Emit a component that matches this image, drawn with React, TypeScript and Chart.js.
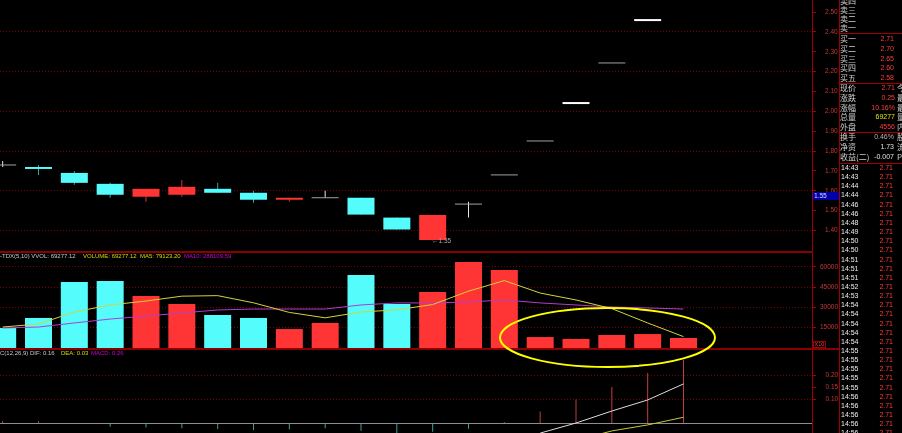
import React, { useEffect, useRef } from 'react';
import { Chart, registerables } from 'chart.js';

Chart.register(...registerables);

// ------------------------------------------------------------------ data
const barIndex = [0, 1, 2, 3, 4, 5, 6, 7, 8, 9, 10, 11, 12, 13, 14, 15, 16, 17, 18, 19];
const openPrice = [1.73, 1.72, 1.69, 1.635, 1.57, 1.58, 1.61, 1.59, 1.555, 1.565, 1.565, 1.465, 1.352, 1.533, 1.68, 1.851, 2.042, 2.244, 2.46, 2.71];
const closePrice = [1.73, 1.71, 1.64, 1.58, 1.61, 1.62, 1.59, 1.555, 1.565, 1.565, 1.48, 1.405, 1.478, 1.533, 1.68, 1.851, 2.042, 2.244, 2.46, 2.71];
const highPrice = [1.75, 1.73, 1.7, 1.64, 1.61, 1.655, 1.64, 1.6, 1.565, 1.6, 1.565, 1.465, 1.478, 1.545, 1.68, 1.851, 2.042, 2.244, 2.46, 2.71];
const lowPrice = [1.72, 1.68, 1.63, 1.565, 1.545, 1.57, 1.59, 1.54, 1.545, 1.565, 1.48, 1.405, 1.35, 1.465, 1.68, 1.851, 2.042, 2.244, 2.46, 2.71];

const volume = [14800, 22200, 48800, 49500, 38400, 32500, 24400, 22200, 14000, 18500, 53900, 32500, 41400, 63500, 57600, 8100, 6700, 9600, 10300, 7400];
const volumeUp = [false, false, false, false, true, true, false, false, true, true, false, false, true, true, true, true, true, true, true, true];
const volumeMa5 = [15500, 17700, 26600, 31800, 34700, 38300, 38700, 33400, 26300, 22300, 26600, 28200, 32100, 42000, 49800, 40600, 35500, 29100, 18500, 8400];
const volumeMa10 = [14800, 15500, 18500, 21400, 23600, 25900, 28100, 28800, 28800, 28800, 31800, 33300, 33300, 34000, 35500, 33300, 31800, 30300, 29600, 28800];

const macdHist = [0.01, 0.009, 0.001, -0.014, -0.017, -0.02, -0.023, -0.027, -0.024, -0.02, -0.03, -0.045, -0.034, -0.022, 0.006, 0.05, 0.1, 0.152, 0.21, 0.265];
const difLine: (number | null)[] = [null, null, null, null, null, null, null, null, null, null, null, null, null, null, null, -0.04, 0.002, 0.052, 0.098, 0.165];
const deaLine: (number | null)[] = [null, null, null, null, null, null, null, null, null, null, null, null, null, null, null, null, -0.07, -0.031, -0.006, 0.026];

const priceTicks = [1.4, 1.5, 1.6, 1.7, 1.8, 1.9, 2.0, 2.1, 2.2, 2.3, 2.4, 2.5];
const priceGridTicks = [1.4, 1.6, 1.8, 2.0, 2.2, 2.4];
const volumeTicks = [15000, 30000, 45000, 60000];
const macdTicks = [0, 0.1, 0.15, 0.2];
const macdGridTicks = [0.1, 0.2];
const lowMarkText = '←1.35';
const crossPriceText = '1.55';

const volHeader = ['-TDX(5,10) VVOL: 69277.12', 'VOLUME: 69277.12', 'MA5: 79123.20', 'MA10: 288109.59'];
const macdHeader = ['C(12,26,9) DIF: 0.16', 'DEA: 0.03', 'MACD: 0.26'];

const sellLabels = ['卖四', '卖三', '卖二', '卖一'];
const buyLabels = ['买一', '买二', '买三', '买四', '买五'];
const buyPrices = ['2.71', '2.70', '2.65', '2.60', '2.58'];
const statLabels = ['现价', '涨跌', '涨幅', '总量', '外盘'];
const statValues = ['2.71', '0.25', '10.16%', '69277', '4556'];
const statCut = ['今', '最', '最', '量', '内'];
const infoLabels = ['换手', '净资', '收益(二)'];
const infoValues = ['0.46%', '1.73', '-0.007'];
const infoCut = ['股', '流', 'P'];
const tradeTimes = ['14:43', '14:43', '14:44', '14:44', '14:46', '14:46', '14:48', '14:49', '14:50', '14:50', '14:51', '14:51', '14:51', '14:52', '14:53', '14:54', '14:54', '14:54', '14:54', '14:54', '14:55', '14:55', '14:55', '14:55', '14:55', '14:56', '14:56', '14:56', '14:56', '14:56'];
const tradePrices = ['2.71', '2.71', '2.71', '2.71', '2.71', '2.71', '2.71', '2.71', '2.71', '2.71', '2.71', '2.71', '2.71', '2.71', '2.71', '2.71', '2.71', '2.71', '2.71', '2.71', '2.71', '2.71', '2.71', '2.71', '2.71', '2.71', '2.71', '2.71', '2.71', '2.71'];

// ------------------------------------------------------------------ style
const X_MIN = -0.0744;
const X_MAX = 22.586;
const PRICE_MIN = 1.2967;
const PRICE_MAX = 2.5612;
const VOL_MIN = 0;
const VOL_MAX = 70936;
const MACD_MIN = -0.0396;
const MACD_MAX = 0.3104;

const FONT = "'Liberation Sans', Arial, sans-serif";
const CJK = "'Noto Sans CJK SC', sans-serif";
const RED = '#ff3535';
const CYAN = '#54fcfc';
const GRID = '#7c0000';
const AXIS = '#a00000';
const LABEL = '#c43838';
const CLEAR = 'rgba(0,0,0,0)';
const BRIGHT_DOJI = new Set([16, 18, 19]);

const near = (a: number, b: number) => Math.abs(a - b) < 1e-6;
const inList = (list: number[], v: number) => list.some((x) => near(x, v));

function xAxis() {
  return { type: 'linear', min: X_MIN, max: X_MAX, display: false, offset: false };
}

function yAxis(o: {
  min: number;
  max: number;
  ticks: number[];
  pad: number;
  label: (v: number) => string | null;
  grid: (v: number) => string | null;
}) {
  return {
    type: 'linear',
    position: 'right',
    min: o.min,
    max: o.max,
    beginAtZero: false,
    afterBuildTicks: (scale: any) => {
      scale.ticks = o.ticks.map((v) => ({ value: v }));
    },
    ticks: {
      autoSkip: false,
      color: LABEL,
      font: { family: FONT, size: 6.5 },
      padding: o.pad,
      crossAlign: 'near',
      callback: (v: any) => o.label(Number(v)) ?? '',
    },
    grid: {
      drawOnChartArea: true,
      drawTicks: true,
      tickLength: 4,
      lineWidth: 1,
      tickWidth: 1,
      color: (ctx: any) => (ctx.tick ? o.grid(ctx.tick.value) ?? CLEAR : CLEAR),
      tickColor: (ctx: any) => (ctx.tick && o.label(ctx.tick.value) !== null ? AXIS : CLEAR),
      tickBorderDash: [],
    },
    border: {
      display: true,
      color: AXIS,
      width: 1,
      dash: (ctx: any) => (ctx.tick && Math.abs(ctx.tick.value) < 1e-9 ? [] : [1, 2]),
    },
    afterFit: (scale: any) => {
      scale.width = 27;
      scale.paddingTop = 0;
      scale.paddingBottom = 0;
    },
  };
}

function baseOptions(y: any) {
  return {
    responsive: false,
    maintainAspectRatio: false,
    animation: false,
    events: [],
    layout: { padding: 0, autoPadding: false },
    plugins: { legend: { display: false }, tooltip: { enabled: false } },
    scales: { x: xAxis(), y },
  };
}

function priceConfig() {
  const bodyIdx = barIndex.filter((i) => openPrice[i] !== closePrice[i]);
  const dojiIdx = barIndex.filter((i) => openPrice[i] === closePrice[i]);
  const bodyColor = (i: number) => (closePrice[i] > openPrice[i] ? RED : CYAN);
  const wickColor = (i: number) =>
    closePrice[i] > openPrice[i] ? '#d83030' : closePrice[i] < openPrice[i] ? '#2aa8a8' : '#e6e6e6';
  const dojiColor = (i: number) => (BRIGHT_DOJI.has(i) ? '#ffffff' : '#a0a0a0');
  return {
    type: 'bar',
    data: {
      datasets: [
        {
          type: 'bar',
          label: 'body',
          data: bodyIdx.map((i) => ({ x: i, y: [openPrice[i], closePrice[i]] })),
          backgroundColor: bodyIdx.map(bodyColor),
          barThickness: 27,
          grouped: false,
          inflateAmount: 0,
          borderWidth: 0,
          order: 1,
        },
        {
          type: 'line',
          label: 'doji',
          data: dojiIdx.map((i) => ({ x: i, y: openPrice[i] })),
          showLine: false,
          pointStyle: 'line',
          pointRadius: 13.5,
          pointBorderColor: dojiIdx.map(dojiColor),
          pointBackgroundColor: dojiIdx.map(dojiColor),
          pointBorderWidth: dojiIdx.map((i) => (BRIGHT_DOJI.has(i) ? 2 : 1)),
          order: 2,
        },
        {
          type: 'bar',
          label: 'wick',
          data: barIndex.map((i) => ({ x: i, y: [lowPrice[i], highPrice[i]] })),
          backgroundColor: barIndex.map(wickColor),
          barThickness: 1,
          grouped: false,
          inflateAmount: 0,
          borderWidth: 0,
          order: 3,
        },
      ],
    },
    options: baseOptions(
      yAxis({
        min: PRICE_MIN,
        max: PRICE_MAX,
        ticks: priceTicks,
        pad: 9,
        label: (v) => (inList(priceTicks, v) ? v.toFixed(2) : null),
        grid: (v) => (inList(priceGridTicks, v) ? GRID : null),
      })
    ),
  };
}

function volumeConfig() {
  return {
    type: 'bar',
    data: {
      datasets: [
        {
          type: 'line',
          label: 'MA5',
          data: barIndex.map((i) => ({ x: i, y: volumeMa5[i] })),
          borderColor: '#d4d43a',
          borderWidth: 1,
          pointRadius: 0,
          tension: 0,
          order: 1,
        },
        {
          type: 'line',
          label: 'MA10',
          data: barIndex.map((i) => ({ x: i, y: volumeMa10[i] })),
          borderColor: '#b23ccc',
          borderWidth: 1,
          pointRadius: 0,
          tension: 0,
          order: 2,
        },
        {
          type: 'bar',
          label: 'VOLUME',
          data: barIndex.map((i) => ({ x: i, y: volume[i] })),
          backgroundColor: barIndex.map((i) => (volumeUp[i] ? RED : CYAN)),
          barThickness: 27,
          grouped: false,
          inflateAmount: 0,
          borderWidth: 0,
          order: 3,
        },
      ],
    },
    options: baseOptions(
      yAxis({
        min: VOL_MIN,
        max: VOL_MAX,
        ticks: volumeTicks,
        pad: 4,
        label: (v) => String(Math.round(v)),
        grid: () => GRID,
      })
    ),
  };
}

function macdConfig() {
  return {
    type: 'bar',
    data: {
      datasets: [
        {
          type: 'line',
          label: 'DIF',
          data: barIndex.map((i) => ({ x: i, y: difLine[i] })),
          borderColor: '#dcdcdc',
          borderWidth: 1,
          pointRadius: 0,
          tension: 0,
          spanGaps: false,
          order: 1,
        },
        {
          type: 'line',
          label: 'DEA',
          data: barIndex.map((i) => ({ x: i, y: deaLine[i] })),
          borderColor: '#c8c83a',
          borderWidth: 1,
          pointRadius: 0,
          tension: 0,
          spanGaps: false,
          order: 2,
        },
        {
          type: 'bar',
          label: 'MACD',
          data: barIndex.map((i) => ({ x: i, y: macdHist[i] })),
          backgroundColor: barIndex.map((i) => (macdHist[i] >= 0 ? '#c43c3c' : '#3aa0a0')),
          barThickness: 1,
          grouped: false,
          inflateAmount: 0,
          borderWidth: 0,
          order: 3,
        },
      ],
    },
    options: baseOptions(
      yAxis({
        min: MACD_MIN,
        max: MACD_MAX,
        ticks: macdTicks,
        pad: 9.5,
        label: (v) => (near(v, 0) ? null : v.toFixed(2)),
        grid: (v) => (near(v, 0) ? '#8e8e8e' : inList(macdGridTicks, v) ? GRID : null),
      })
    ),
  };
}

// ------------------------------------------------------------------ text helpers
function txt(
  key: string,
  x: number,
  y: number,
  text: string,
  color: string,
  size: number,
  family: string,
  rightEdge?: number
) {
  const style: React.CSSProperties = {
    position: 'absolute',
    top: y - 5,
    height: 10,
    lineHeight: '10px',
    fontSize: size,
    fontFamily: family,
    color,
    whiteSpace: 'nowrap',
  };
  if (rightEdge !== undefined) {
    style.left = rightEdge - 60;
    style.width = 60;
    style.textAlign = 'right';
  } else {
    style.left = x;
  }
  return (
    <div key={key} style={style}>
      {text}
    </div>
  );
}

function hline(key: string, x: number, y: number, w: number, h = 1, color = AXIS) {
  return <div key={key} style={{ position: 'absolute', left: x, top: y, width: w, height: h, background: color }} />;
}

export default function App() {
  const priceRef = useRef<HTMLCanvasElement>(null);
  const volRef = useRef<HTMLCanvasElement>(null);
  const macdRef = useRef<HTMLCanvasElement>(null);

  useEffect(() => {
    const charts = [
      new Chart(priceRef.current as HTMLCanvasElement, priceConfig() as any),
      new Chart(volRef.current as HTMLCanvasElement, volumeConfig() as any),
      new Chart(macdRef.current as HTMLCanvasElement, macdConfig() as any),
    ];
    return () => charts.forEach((c) => c.destroy());
  }, []);

  const panel: React.ReactNode[] = [];
  const sellY = [1, 10, 19, 28];
  sellLabels.forEach((l, i) => panel.push(txt('s' + i, 840, sellY[i], l, '#d0d0d0', 8, CJK)));
  const buyY = [39, 49, 59, 68, 78];
  buyLabels.forEach((l, i) => {
    panel.push(txt('b' + i, 840, buyY[i], l, '#d0d0d0', 8, CJK));
    panel.push(txt('bp' + i, 0, buyY[i], buyPrices[i], '#ff3c3c', 7, FONT, 894));
  });
  const statY = [88, 98, 108, 117, 127];
  const statColors = ['#ff3c3c', '#ff3c3c', '#ff3c3c', '#e0e000', '#ff3c3c'];
  statLabels.forEach((l, i) => {
    panel.push(txt('st' + i, 840, statY[i], l, '#d0d0d0', 8, CJK));
    panel.push(txt('sv' + i, 0, statY[i], statValues[i], statColors[i], 7, FONT, 895));
    panel.push(txt('sc' + i, 897, statY[i], statCut[i], '#d0d0d0', 8, CJK));
  });
  const infoY = [137, 147, 157];
  const infoColors = ['#b0b0b0', '#e0e0e0', '#e0e0e0'];
  infoLabels.forEach((l, i) => {
    panel.push(txt('in' + i, 840, infoY[i], l, '#d0d0d0', 8, CJK));
    panel.push(txt('iv' + i, 0, infoY[i], infoValues[i], infoColors[i], 7, FONT, 894));
    panel.push(txt('ic' + i, 897, infoY[i], infoCut[i], '#d0d0d0', 8, CJK));
  });
  tradeTimes.forEach((t, i) => {
    const y = 168 + i * 9.15;
    panel.push(txt('tt' + i, 841, y, t, '#ececec', 7, FONT));
    panel.push(txt('tp' + i, 0, y, tradePrices[i], '#ff3c3c', 7, FONT, 893));
  });

  return (
    <div
      style={{
        position: 'fixed',
        left: 0,
        top: 0,
        width: 902,
        height: 433,
        background: '#000',
        overflow: 'hidden',
      }}
    >
      <canvas ref={priceRef} width={839} height={251} style={{ position: 'absolute', left: 0, top: 0 }} />
      <canvas ref={volRef} width={839} height={96} style={{ position: 'absolute', left: 0, top: 252 }} />
      <canvas ref={macdRef} width={839} height={84} style={{ position: 'absolute', left: 0, top: 349 }} />

      {hline('sep1', 0, 251, 813, 1.5, '#8a0000')}
      {hline('sep2', 0, 348, 839, 1.5, '#8a0000')}
      <div style={{ position: 'absolute', left: 839, top: 0, width: 1, height: 433, background: AXIS }} />
      {hline('rp1', 839, 33, 63)}
      {hline('rp2', 839, 83, 63)}
      {hline('rp3', 839, 132, 63)}
      {hline('rp4', 839, 163, 63)}

      {txt('vh0', 0, 256, volHeader[0], '#c8c8c8', 6, FONT)}
      {txt('vh1', 83, 256, volHeader[1], '#d8d800', 6, FONT)}
      {txt('vh2', 140, 256, volHeader[2], '#d8d800', 6, FONT)}
      {txt('vh3', 184, 256, volHeader[3], '#d000d0', 6, FONT)}
      {txt('mh0', 0, 353, macdHeader[0], '#c8c8c8', 6, FONT)}
      {txt('mh1', 61, 353, macdHeader[1], '#d8d800', 6, FONT)}
      {txt('mh2', 91, 353, macdHeader[2], '#d000d0', 6, FONT)}

      {txt('low', 432, 241, lowMarkText, '#a8a8a8', 6.5, FONT)}

      <div
        style={{
          position: 'absolute',
          left: 813,
          top: 192,
          width: 26,
          height: 8,
          background: '#0000a8',
          color: '#d8d8ff',
          fontFamily: FONT,
          fontSize: 6.5,
          lineHeight: '8px',
          paddingLeft: 1,
          boxSizing: 'border-box',
        }}
      >
        {crossPriceText}
      </div>
      <div
        style={{
          position: 'absolute',
          left: 813,
          top: 341,
          width: 13,
          height: 7,
          border: '1px solid ' + AXIS,
          boxSizing: 'border-box',
          color: '#d04040',
          fontFamily: FONT,
          fontSize: 5.5,
          lineHeight: '5px',
          textAlign: 'center',
        }}
      >
        X10
      </div>

      {panel}

      <svg width={902} height={433} style={{ position: 'absolute', left: 0, top: 0, pointerEvents: 'none' }}>
        <ellipse cx={607.5} cy={337.5} rx={107.5} ry={29.5} fill="none" stroke="#ffff00" strokeWidth={2} />
      </svg>
    </div>
  );
}
